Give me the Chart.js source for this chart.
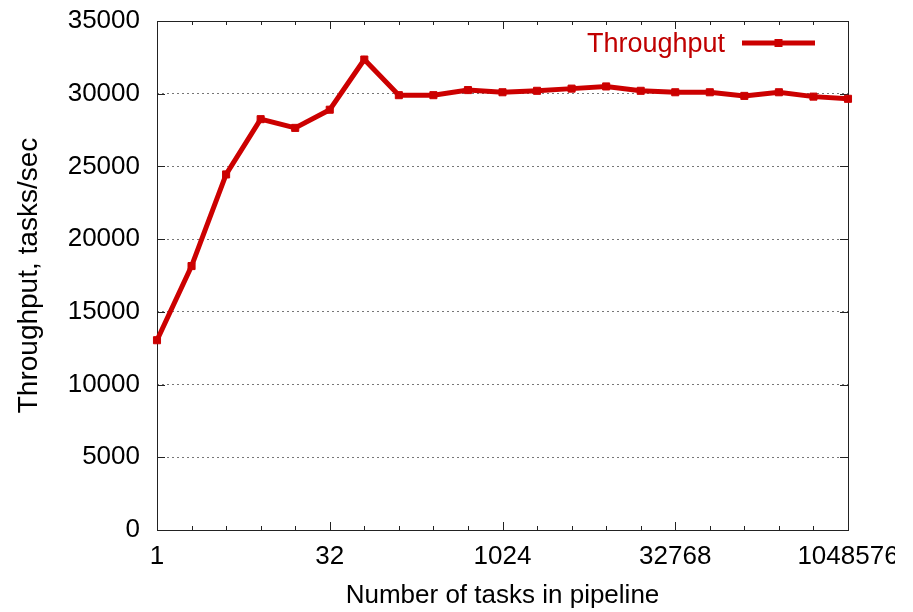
<!DOCTYPE html>
<html>
<head>
<meta charset="utf-8">
<title>Throughput vs tasks in pipeline</title>
<script src="https://cdn.jsdelivr.net/npm/chart.js@4.4.1/dist/chart.umd.min.js"></script>
<style>
  html, body { margin: 0; padding: 0; background: #fff; }
  #wrap { width: 895px; height: 612px; position: relative; }
</style>
</head>
<body>
<div id="wrap"><canvas id="chart"></canvas></div>
<script>
// number of tasks queued in the pipeline
const taskCounts = [1, 2, 4, 8, 16, 32, 64, 128, 256, 512, 1024, 2048, 4096, 8192,
  16384, 32768, 65536, 131072, 262144, 524288, 1048576];
// measured throughput, tasks/sec
const throughput = [13050, 18150, 24450, 28250, 27650, 28900, 32350, 29900, 29900, 30250,
  30100, 30200, 30350, 30500, 30200, 30100, 30100, 29850, 30100, 29800, 29650];
const xTickValues = [1, 32, 1024, 32768, 1048576];
const yTickValues = [0, 5000, 10000, 15000, 20000, 25000, 30000, 35000];

const RED = '#cc0000';
const FONT = "'Liberation Sans', Arial, sans-serif";

// gnuplot-ish box around the plot with inward ticks on all four sides
const framePlugin = {
  id: 'frame',
  beforeDatasetsDraw(chart) {
    const { ctx, chartArea: a, scales: { x, y } } = chart;
    ctx.save();
    ctx.strokeStyle = '#222';
    ctx.lineWidth = 1;
    ctx.strokeRect(a.left + 0.5, a.top + 0.5, a.right - a.left, a.bottom - a.top);
    ctx.beginPath();
    taskCounts.forEach(v => {
      const px = Math.round(x.getPixelForValue(v)) + 0.5;
      const len = xTickValues.includes(v) ? 8 : 4;
      ctx.moveTo(px, a.bottom); ctx.lineTo(px, a.bottom - len);
      ctx.moveTo(px, a.top); ctx.lineTo(px, a.top + len);
    });
    yTickValues.forEach(v => {
      const py = Math.round(y.getPixelForValue(v)) + 0.5;
      ctx.moveTo(a.left, py); ctx.lineTo(a.left + 8, py);
      ctx.moveTo(a.right, py); ctx.lineTo(a.right - 8, py);
    });
    ctx.stroke();
    ctx.restore();
  }
};

// key in the top right corner: label text, then the line sample
const keyPlugin = {
  id: 'key',
  afterDraw(chart) {
    const ds = chart.data.datasets[0];
    const { ctx, chartArea: a } = chart;
    const yMid = a.top + 22;
    const lineEnd = a.right - 33;
    const lineStart = lineEnd - 73;
    ctx.save();
    ctx.font = '27px ' + FONT;
    ctx.fillStyle = '#c00000';
    ctx.textAlign = 'right';
    ctx.textBaseline = 'alphabetic';
    ctx.fillText(ds.label, lineStart - 17, a.top + 31);
    ctx.strokeStyle = ds.borderColor;
    ctx.lineWidth = ds.borderWidth;
    ctx.beginPath();
    ctx.moveTo(lineStart, yMid);
    ctx.lineTo(lineEnd, yMid);
    ctx.stroke();
    const mx = (lineStart + lineEnd) / 2;
    ctx.fillStyle = ds.borderColor;
    ctx.fillRect(mx - 4, yMid - 4, 8, 8);
    ctx.restore();
  }
};

const points = taskCounts.map((n, i) => ({ x: n, y: throughput[i] }));

new Chart(document.getElementById('chart'), {
  type: 'line',
  data: {
    datasets: [{
      label: 'Throughput',
      data: points,
      borderColor: RED,
      backgroundColor: RED,
      borderWidth: 5,
      pointStyle: 'rect',
      pointRadius: 5,
      pointBorderWidth: 1,
      pointBackgroundColor: RED,
      pointBorderColor: RED,
      tension: 0,
      clip: false
    }]
  },
  options: {
    responsive: true,
    maintainAspectRatio: false,
    animation: false,
    events: [],
    layout: { padding: { top: 21, right: 47, left: 0, bottom: 0 } },
    plugins: {
      legend: { display: false },
      tooltip: { enabled: false }
    },
    scales: {
      x: {
        type: 'logarithmic',
        min: 1,
        max: 1048576,
        grid: { display: false, drawTicks: false },
        border: { display: false },
        afterBuildTicks(scale) {
          scale.ticks = xTickValues.map(v => ({ value: v }));
        },
        afterFit(scale) {
          scale.height = 82;
          scale.paddingLeft = 0;
          scale.paddingRight = 0;
        },
        ticks: {
          color: '#000',
          padding: 11,
          maxRotation: 0,
          autoSkip: false,
          font: { family: FONT, size: 26 },
          callback: v => String(v)
        },
        title: {
          display: true,
          text: 'Number of tasks in pipeline',
          color: '#000',
          font: { family: FONT, size: 26 },
          padding: { top: 0, bottom: 1 }
        }
      },
      y: {
        min: 0,
        max: 35000,
        afterBuildTicks(scale) {
          scale.ticks = yTickValues.map(v => ({ value: v }));
        },
        afterFit(scale) {
          scale.width = 157;
          scale.paddingTop = 0;
          scale.paddingBottom = 0;
        },
        grid: { color: '#777', lineWidth: 1, drawTicks: false },
        border: { display: false, dash: [2, 3] },
        ticks: {
          color: '#000',
          padding: 17,
          font: { family: FONT, size: 26 },
          callback: v => String(v)
        },
        title: {
          display: true,
          text: 'Throughput, tasks/sec',
          color: '#000',
          font: { family: FONT, size: 28 },
          padding: { top: 12, bottom: 0 }
        }
      }
    }
  },
  plugins: [framePlugin, keyPlugin]
});
</script>
</body>
</html>
